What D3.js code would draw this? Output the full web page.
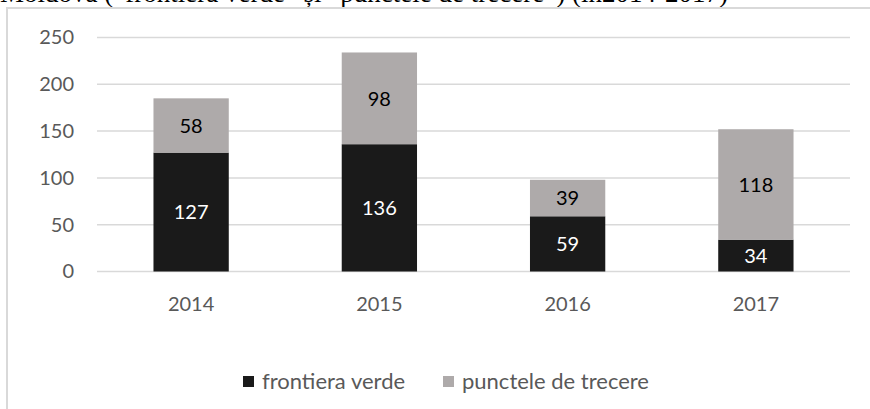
<!DOCTYPE html>
<html><head><meta charset="utf-8">
<script src="https://cdn.jsdelivr.net/npm/d3@7"></script>
<style>body{margin:0;background:#fff;}svg{display:block;}</style>
</head><body>
<svg id="c" width="870" height="409"></svg>
<script>
const titleText = "Moldova (\u201Cfrontiera verde\u201D și \u201Cpunctele de trecere\u201D) (în2014-2017)";
const categories = ["2014", "2015", "2016", "2017"];
const seriesNames = ["frontiera verde", "punctele de trecere"];
const frontieraVerde = [127, 136, 59, 34];
const puncteleDeTrecere = [58, 98, 39, 118];
const yTicks = [0, 50, 100, 150, 200, 250];
const colors = ["#1a1a1a", "#aeaaaa"];

const svg = d3.select("#c");
const font = "Lato, 'Open Sans', sans-serif";
const textCol = "#595959";

// clipped title
svg.append("text").attr("x", 0).attr("y", 2)
  .attr("font-family", "'Liberation Serif', 'Times New Roman', serif")
  .attr("font-size", 27).attr("fill", "#000").text(titleText);

// chart border
svg.append("rect").attr("x", 7).attr("y", 8).attr("width", 880).attr("height", 420)
  .attr("fill", "#fff").attr("stroke", "#d9d9d9").attr("stroke-width", 2);

const x = d3.scaleBand().domain(categories).range([97, 850]).paddingInner(0.6).paddingOuter(0.3);
const y = d3.scaleLinear().domain([0, 250]).range([271.5, 37.5]);

// gridlines
svg.append("g").selectAll("line").data(yTicks).join("line")
  .attr("x1", 97).attr("x2", 850)
  .attr("y1", d => y(d)).attr("y2", d => y(d))
  .attr("stroke", "#d9d9d9").attr("stroke-width", 1.5);

// y axis labels
const yAxis = d3.axisLeft(y).tickValues(yTicks).tickSize(0).tickPadding(0);
const gy = svg.append("g").attr("transform", "translate(74,0)").call(yAxis);
gy.select(".domain").remove();
gy.selectAll("text").attr("font-family", font).attr("font-size", 20).attr("fill", textCol);

// x axis labels
const xAxis = d3.axisBottom(x).tickSize(0).tickPadding(0);
const gx = svg.append("g").attr("transform", "translate(0,297)").call(xAxis);
gx.select(".domain").remove();
gx.selectAll("text").attr("font-family", font).attr("font-size", 20).attr("fill", textCol);

// stack
const rows = categories.map((c, i) => ({cat: c, s0: frontieraVerde[i], s1: puncteleDeTrecere[i]}));
const stack = d3.stack().keys(["s0", "s1"])(rows);

stack.forEach((layer, li) => {
  const g = svg.append("g");
  g.selectAll("rect").data(layer).join("rect")
    .attr("x", d => x(d.data.cat)).attr("width", x.bandwidth())
    .attr("y", d => y(d[1])).attr("height", d => y(d[0]) - y(d[1]))
    .attr("fill", colors[li]);
  g.selectAll("text").data(layer).join("text")
    .attr("x", d => x(d.data.cat) + x.bandwidth() / 2)
    .attr("y", d => (y(d[0]) + y(d[1])) / 2)
    .attr("dy", "0.36em").attr("text-anchor", "middle")
    .attr("font-family", font).attr("font-size", 20)
    .attr("fill", li === 0 ? "#fff" : "#000")
    .text(d => d[1] - d[0]);
});

// legend
const legendX = [243, 443];
const lg = svg.append("g");
seriesNames.forEach((n, i) => {
  lg.append("rect").attr("x", legendX[i]).attr("y", 376).attr("width", 11).attr("height", 11).attr("fill", colors[i]);
  lg.append("text").attr("x", legendX[i] + 19).attr("y", 381).attr("dy", "0.36em")
    .attr("font-family", font).attr("font-size", 22).attr("fill", textCol).text(n);
});
</script>
</body></html>
